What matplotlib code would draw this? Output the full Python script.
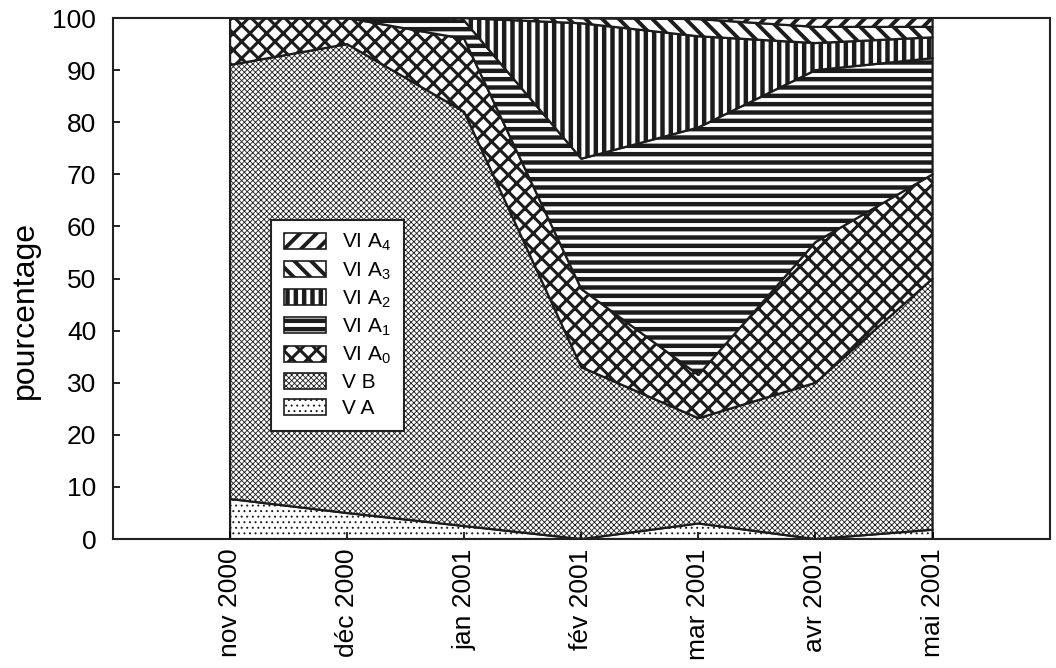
import matplotlib
matplotlib.use("Agg")
import matplotlib.pyplot as plt
from matplotlib.patches import Patch
import numpy as np

plt.rcParams["font.family"] = ["Liberation Sans", "DejaVu Sans"]
plt.rcParams["mathtext.default"] = "regular"

months = ["nov 2000", "déc 2000", "jan 2001", "fév 2001", "mar 2001", "avr 2001", "mai 2001"]

# percentages per stage (stacked bottom -> top)
va   = [7.7, 5.0, 2.5, 0.0, 3.0, 0.0, 1.8]
vb   = [83.3, 90.0, 79.5, 33.0, 20.2, 30.0, 48.2]
via0 = [9.0, 5.0, 14.0, 15.0, 8.3, 27.0, 20.0]
via1 = [0.0, 0.0, 3.5, 25.0, 47.5, 33.0, 22.3]
via2 = [0.0, 0.0, 0.5, 26.0, 17.5, 5.2, 4.0]
via3 = [0.0, 0.0, 0.5, 1.0, 3.3, 3.1, 2.0]
via4 = [0.0, 0.0, 0.0, 0.0, 0.2, 1.7, 1.7]

layers = [va, vb, via0, via1, via2, via3, via4]
labels = ["V A", "V B", "VI A$_0$", "VI A$_1$", "VI A$_2$", "VI A$_3$", "VI A$_4$"]
hatches = ["...", "xxxxxx", "xx", "--", "||", "\\\\", "//"]
hatch_lw = [0.7, 0.6, 2.2, 3.2, 3.2, 2.8, 2.8]
edge = "#1c1c1c"


def set_hlw(artist, lw):
    if hasattr(artist, "set_hatch_linewidth"):
        artist.set_hatch_linewidth(lw)
    else:
        artist._hatch_linewidth = lw


x = np.arange(len(months))
tops = np.cumsum(np.array(layers, float), axis=0)

fig = plt.figure(figsize=(10.56, 6.68), dpi=100)
ax = fig.add_axes([0.107, 0.193, 0.887, 0.780])

handles = []
bottom = np.zeros(len(months))
for top, lab, h, hlw in zip(tops, labels, hatches, hatch_lw):
    with plt.rc_context({"hatch.linewidth": hlw, "hatch.color": edge}):
        coll = ax.fill_between(x, bottom, top, facecolor="white", edgecolor=edge,
                               hatch=h, linewidth=1.6)
        p = Patch(facecolor="white", edgecolor=edge, hatch=h, linewidth=1.2, label=lab)
    set_hlw(coll, hlw)
    set_hlw(p, hlw)
    handles.append(p)
    bottom = top

ax.set_xlim(-1, 7)
ax.set_ylim(0, 100)
ax.set_xticks(x)
ax.set_xticklabels(months, rotation=90, fontsize=19)
ax.set_yticks(np.arange(0, 101, 10))
ax.tick_params(axis="y", labelsize=19, direction="in", length=5, width=1.2, pad=12)
ax.tick_params(axis="x", direction="in", length=5, width=1.2, pad=7)
ax.set_ylabel("pourcentage", fontsize=23)
ax.yaxis.set_label_coords(-0.078, 0.44)
for s in ax.spines.values():
    s.set_linewidth(1.5)
    s.set_color("#222222")

leg = ax.legend(handles[::-1], labels[::-1], loc="upper left",
                bbox_to_anchor=(0.158, 0.633), fontsize=15, frameon=True,
                fancybox=False, edgecolor="#222222", framealpha=1,
                handlelength=2.0, handleheight=0.8, labelspacing=0.33,
                borderpad=0.6, handletextpad=0.8)
leg.get_frame().set_linewidth(1.5)
for p, hlw in zip(leg.get_patches(), hatch_lw[::-1]):
    set_hlw(p, hlw)

fig.savefig("out.png", dpi=100)
